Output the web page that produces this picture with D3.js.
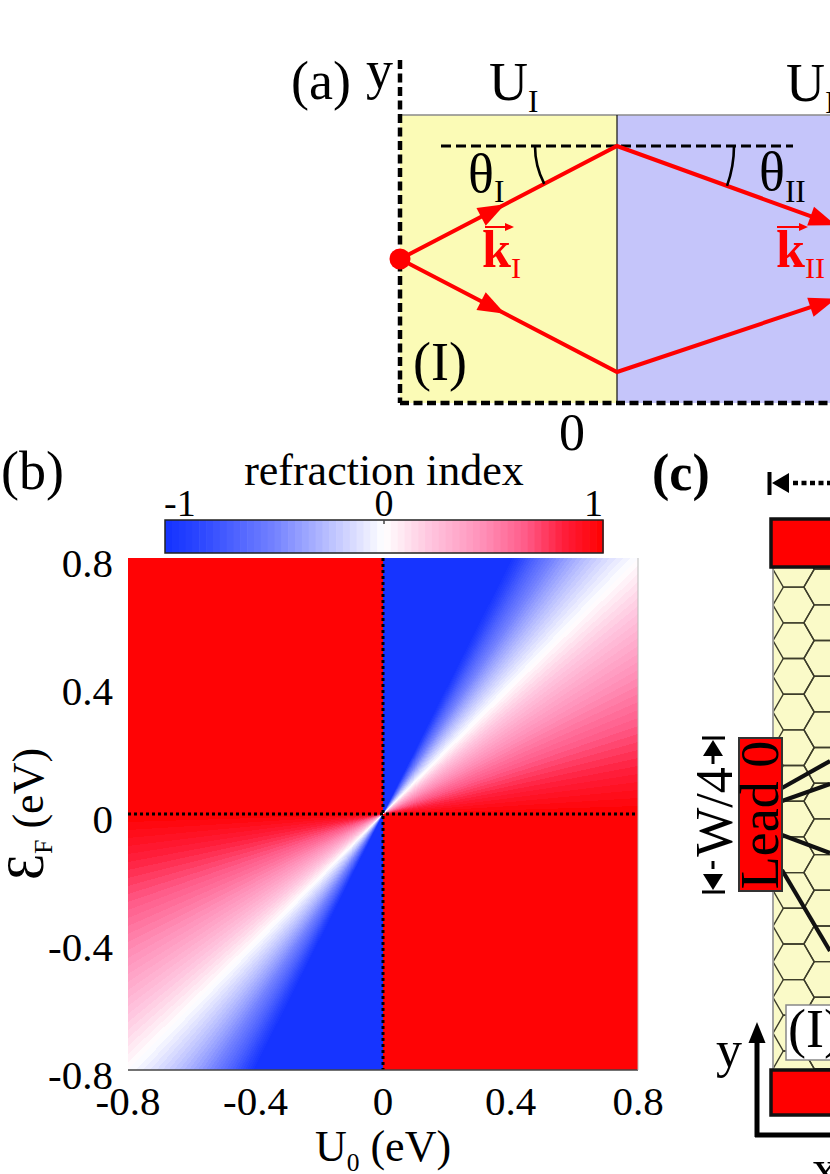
<!DOCTYPE html>
<html>
<head>
<meta charset="utf-8">
<script src="https://cdn.jsdelivr.net/npm/d3@7"></script>
<style>
  body { margin: 0; background: #fff; }
  svg { display: block; font-family: "Liberation Serif", "Times New Roman", serif; }
</style>
</head>
<body>
<div id="chart"></div>
<script>
// ---- panel (b) data ----
const u0Ticks = [-0.8, -0.4, 0, 0.4, 0.8];      // U0 (eV)
const efTicks = [-0.8, -0.4, 0, 0.4, 0.8];      // E_F (eV)
const cbTicks = [-1, 0, 1];                      // refraction index
// refraction index read off the map as a function of E_F / U_0
const ratioKnots = [0, 1, 2];
const indexKnots = [1, 0, -1];
// colour map (blue - white - red), 64 steps
const cmapValues = [-1, -0.85, -0.5, -0.2, 0, 0.2, 0.45, 0.65, 0.82, 1];
const cmapColors = ["#1432ff", "#2a45ff", "#7482ff", "#c8ccff", "#ffffff",
                    "#ffc8e0", "#ff90b8", "#ff5a88", "#ff1e3c", "#ff0000"];
const nLevels = 64;

// ---- panel (a) angles (deg) ----
const thetaI = 27.5;
const thetaIIup = 19.9, thetaIIdown = 18.5;

const W = 830, H = 1174;
const svg = d3.select("#chart").append("svg")
  .attr("width", W).attr("height", H)
  .attr("viewBox", [0, 0, W, H]);

// text with subscripts: parts = [[str], [str,"sub"], ...]
function rich(g, x, y, parts, size, subShift) {
  const t = g.append("text").attr("x", x).attr("y", y).attr("font-size", size);
  let shift = 0;
  parts.forEach(p => {
    const ts = t.append("tspan").text(p[0]);
    const want = p[1] === "sub" ? (subShift || size * 0.22) : 0;
    if (want !== shift) { ts.attr("dy", want - shift); shift = want; }
    if (p[1] === "sub") ts.attr("font-size", size * 0.58);
  });
  return t;
}
function tri(g, tipX, tipY, ang, len, half, fill) {
  const a = ang * Math.PI / 180;
  const bx = tipX - len * Math.cos(a), by = tipY - len * Math.sin(a);
  const nx = -Math.sin(a) * half, ny = Math.cos(a) * half;
  g.append("path")
    .attr("d", `M${tipX},${tipY}L${bx + nx},${by + ny}L${bx - nx},${by - ny}Z`)
    .attr("fill", fill);
}

// =============== panel (a) ===============
const ga = svg.append("g");
const aL = 400, aI = 617, aT = 115, aB = 403, srcY = 259;
ga.append("rect").attr("x", aL).attr("y", aT).attr("width", aI - aL).attr("height", aB - aT).attr("fill", "#fbfbb6");
ga.append("rect").attr("x", aI).attr("y", aT).attr("width", W - aI).attr("height", aB - aT).attr("fill", "#c5c5fa");
ga.append("line").attr("x1", aL).attr("x2", W).attr("y1", aT).attr("y2", aT).attr("stroke", "#8a8a8a").attr("stroke-width", 1.6);
ga.append("line").attr("x1", aI).attr("x2", aI).attr("y1", aT).attr("y2", aB).attr("stroke", "#111").attr("stroke-width", 1.2);
ga.append("line").attr("x1", aL).attr("x2", aL).attr("y1", 60).attr("y2", aB)
  .attr("stroke", "#000").attr("stroke-width", 4.5).attr("stroke-dasharray", "9,4.5");
ga.append("line").attr("x1", aL).attr("x2", W).attr("y1", aB).attr("y2", aB)
  .attr("stroke", "#000").attr("stroke-width", 4.5).attr("stroke-dasharray", "9,4.5");

const rad = Math.PI / 180;
const hitUp = srcY - (aI - aL) * Math.tan(thetaI * rad);
const hitDn = srcY + (aI - aL) * Math.tan(thetaI * rad);
ga.append("line").attr("x1", 441).attr("x2", 793).attr("y1", hitUp).attr("y2", hitUp)
  .attr("stroke", "#000").attr("stroke-width", 3).attr("stroke-dasharray", "10,5");

const tipX2 = 836;
const endUp = hitUp + (tipX2 - aI) * Math.tan(thetaIIup * rad);
const endDn = hitDn - (tipX2 - aI) * Math.tan(thetaIIdown * rad);
const ray = d3.line();
ga.append("path").attr("d", ray([[aL, srcY], [aI, hitUp], [tipX2 - 20, endUp - 20 * Math.tan(thetaIIup * rad)]]))
  .attr("fill", "none").attr("stroke", "red").attr("stroke-width", 4).attr("stroke-linejoin", "miter");
ga.append("path").attr("d", ray([[aL, srcY], [aI, hitDn], [tipX2 - 20, endDn + 20 * Math.tan(thetaIIdown * rad)]]))
  .attr("fill", "none").attr("stroke", "red").attr("stroke-width", 4);
// arrowheads
const tI = 0.484;
tri(ga, aL + tI * (aI - aL), srcY + tI * (hitUp - srcY), -thetaI, 27, 10, "red");
tri(ga, aL + tI * (aI - aL), srcY + tI * (hitDn - srcY), thetaI, 27, 10, "red");
tri(ga, tipX2, endUp, thetaIIup, 27, 10, "red");
tri(ga, tipX2, endDn, -thetaIIdown, 27, 10, "red");
ga.append("circle").attr("cx", aL).attr("cy", srcY).attr("r", 10.5).attr("fill", "red");

// angle arcs
function arcPath(cx, cy, r, a0, a1) {
  const p0 = [cx + r * Math.cos(a0 * rad), cy + r * Math.sin(a0 * rad)];
  const p1 = [cx + r * Math.cos(a1 * rad), cy + r * Math.sin(a1 * rad)];
  const sweep = a1 > a0 ? 1 : 0;
  return `M${p0}A${r},${r} 0 0 ${sweep} ${p1}`;
}
ga.append("path").attr("d", arcPath(aI, hitUp, 82, 180, 180 - thetaI))
  .attr("fill", "none").attr("stroke", "#000").attr("stroke-width", 2.6);
ga.append("path").attr("d", arcPath(aI, hitUp, 117, 0, thetaIIup))
  .attr("fill", "none").attr("stroke", "#000").attr("stroke-width", 2.6);

// labels (a)
ga.append("text").attr("x", 291).attr("y", 99).attr("font-size", 54).text("(a)");
ga.append("text").attr("x", 366).attr("y", 88).attr("font-size", 54).text("y");
rich(ga, 489, 100, [["U"], ["I", "sub"]], 54, 12);
rich(ga, 786, 101, [["U"], ["II", "sub"]], 54, 12);
rich(ga, 468, 192, [["θ"], ["I", "sub"]], 54, 10);
rich(ga, 759, 190, [["θ"], ["II", "sub"]], 54, 12);
rich(ga, 482, 267, [["k"], ["I", "sub"]], 52, 11).attr("fill", "red").attr("font-weight", "bold")
  .selectAll("tspan").filter((d, i) => i === 1).attr("font-weight", "normal");
rich(ga, 776, 267, [["k"], ["II", "sub"]], 52, 11).attr("fill", "red").attr("font-weight", "bold")
  .selectAll("tspan").filter((d, i) => i === 1).attr("font-weight", "normal");
[[485, 506], [777, 800]].forEach(([x1, x2]) => {
  ga.append("line").attr("x1", x1).attr("x2", x2).attr("y1", 227).attr("y2", 227).attr("stroke", "red").attr("stroke-width", 2);
  tri(ga, x2 + 8, 227, 0, 9, 4, "red");
});
ga.append("text").attr("x", 413).attr("y", 380).attr("font-size", 54).text("(I)");
ga.append("text").attr("x", 572).attr("y", 450).attr("font-size", 52).attr("text-anchor", "middle").text("0");

// =============== panel (b) ===============
const gb = svg.append("g");
const x = d3.scaleLinear().domain([-0.8, 0.8]).range([128, 638]);
const y = d3.scaleLinear().domain([-0.8, 0.8]).range([1070, 558]);
const nIndex = d3.scaleLinear().domain(ratioKnots).range(indexKnots).clamp(true);
const cmap = d3.scaleLinear().domain(cmapValues).range(cmapColors).interpolate(d3.interpolateRgb);
const levelColors = d3.range(nLevels).map(k => cmap(-1 + (k + 0.5) * 2 / nLevels));
const level = v => Math.max(0, Math.min(nLevels - 1, Math.floor((v + 1) / 2 * nLevels)));

// heat map raster
const pw = Math.round(x.range()[1] - x.range()[0]);
const ph = Math.round(y.range()[0] - y.range()[1]);
const canvas = document.createElement("canvas");
canvas.width = pw; canvas.height = ph;
const ctx = canvas.getContext("2d");
const img = ctx.createImageData(pw, ph);
const rgbLevels = levelColors.map(c => d3.rgb(c));
for (let j = 0; j < ph; j++) {
  const e = y.invert(y.range()[1] + j + 0.5);
  for (let i = 0; i < pw; i++) {
    const u = x.invert(x.range()[0] + i + 0.5);
    const c = rgbLevels[level(nIndex(e / u))];
    const o = (j * pw + i) * 4;
    img.data[o] = c.r; img.data[o + 1] = c.g; img.data[o + 2] = c.b; img.data[o + 3] = 255;
  }
}
ctx.putImageData(img, 0, 0);
gb.append("image").attr("x", x.range()[0]).attr("y", y.range()[1])
  .attr("width", pw).attr("height", ph)
  .attr("preserveAspectRatio", "none")
  .attr("href", canvas.toDataURL());

// dotted zero lines
gb.append("line").attr("x1", x(0)).attr("x2", x(0)).attr("y1", y(0.8)).attr("y2", y(-0.8))
  .attr("stroke", "#000").attr("stroke-width", 3).attr("stroke-dasharray", "3,3");
gb.append("line").attr("x1", x(-0.8)).attr("x2", x(0.8)).attr("y1", y(0)).attr("y2", y(0))
  .attr("stroke", "#000").attr("stroke-width", 3).attr("stroke-dasharray", "3,3");
gb.append("line").attr("x1", x(-0.8)).attr("x2", x(0.8)).attr("y1", y(-0.8)).attr("y2", y(-0.8))
  .attr("stroke", "#444").attr("stroke-width", 1.6);
gb.append("line").attr("x1", x(0.8)).attr("x2", x(0.8)).attr("y1", y(0.8)).attr("y2", y(-0.8))
  .attr("stroke", "#bbb").attr("stroke-width", 1);

// tick labels
const fmt = d => String(d);
gb.selectAll(".xt").data(u0Ticks).join("text")
  .attr("x", d => x(d)).attr("y", 1115).attr("font-size", 41).attr("text-anchor", "middle").text(fmt);
gb.selectAll(".yt").data(efTicks).join("text")
  .attr("x", 113).attr("y", d => y(d) + 19).attr("font-size", 41).attr("text-anchor", "end").text(fmt);

// axis titles
rich(gb, 383, 1161, [["U"], ["0", "sub"], [" (eV)"]], 44, 10).attr("text-anchor", "middle");
const yl = gb.append("text").attr("transform", "translate(43,814) rotate(-90)")
  .attr("text-anchor", "middle").attr("font-size", 44);
yl.append("tspan").attr("font-size", 52).text("Ɛ");
yl.append("tspan").attr("font-size", 26).attr("dy", 9).text("F");
yl.append("tspan").attr("dy", -9).text(" (eV)");

// colour bar
const cbX = d3.scaleLinear().domain([-1, 1]).range([165, 603]);
const cbY = 520, cbH = 33;
gb.selectAll(".cb").data(levelColors).join("rect")
  .attr("x", (d, k) => cbX(-1 + k * 2 / nLevels))
  .attr("width", (cbX(1) - cbX(-1)) / nLevels + 0.6)
  .attr("y", cbY).attr("height", cbH).attr("fill", d => d);
gb.append("rect").attr("x", cbX(-1)).attr("y", cbY).attr("width", cbX(1) - cbX(-1)).attr("height", cbH)
  .attr("fill", "none").attr("stroke", "#222").attr("stroke-width", 1.5);
gb.append("line").attr("x1", cbX(0)).attr("x2", cbX(0)).attr("y1", cbY).attr("y2", cbY + 4).attr("stroke", "#444").attr("stroke-width", 1.5);
gb.selectAll(".cbt").data(cbTicks).join("text")
  .attr("x", d => d === -1 ? cbX(d) - 1 : cbX(d))
  .attr("text-anchor", d => d === -1 ? "start" : d === 1 ? "end" : "middle")
  .attr("y", 516).attr("font-size", 38).text(d => String(d));
gb.append("text").attr("x", 384).attr("y", 485).attr("font-size", 44).attr("text-anchor", "middle").text("refraction index");
gb.append("text").attr("x", 1).attr("y", 489).attr("font-size", 54).text("(b)");

// =============== panel (c) ===============
const gc = svg.append("g");
const sL = 773, sT = 568, sB = 1069;
gc.append("defs").append("clipPath").attr("id", "strip")
  .append("rect").attr("x", sL).attr("y", sT).attr("width", W - sL).attr("height", sB - sT);
gc.append("rect").attr("x", sL).attr("y", sT).attr("width", W - sL).attr("height", sB - sT).attr("fill", "#fafac8");
const s = 20.6, hh = Math.sqrt(3) * s;
const hexes = [];
[[sL + s, 605], [sL + s + 1.5 * s, 587]].forEach(([cx, cy0]) => {
  for (let k = -2; k < 17; k++) hexes.push([cx, cy0 + hh * k]);
});
gc.append("g").attr("clip-path", "url(#strip)")
  .selectAll("path").data(hexes).join("path")
  .attr("d", ([cx, cy]) => d3.line()(d3.range(7).map(v => [cx + s * Math.cos(v * 60 * rad), cy + s * Math.sin(v * 60 * rad)])))
  .attr("fill", "none").attr("stroke", "#3d3d2a").attr("stroke-width", 1.4);
gc.append("line").attr("x1", sL).attr("x2", sL).attr("y1", sT).attr("y2", sB).attr("stroke", "#9a9a9a").attr("stroke-width", 1.8);

// trajectories from lead 0
const traj = [[[782, 788], [830, 761]], [[782, 801], [830, 784]], [[782, 835], [830, 853]], [[782, 870], [830, 951]]];
gc.selectAll(".tr").data(traj).join("path").attr("d", d => d3.line()(d))
  .attr("stroke", "#111").attr("stroke-width", 4.2);

// Lead 0
gc.append("rect").attr("x", 739).attr("y", 738).attr("width", 43).attr("height", 153)
  .attr("fill", "red").attr("stroke", "#333").attr("stroke-width", 2);
gc.append("text").attr("transform", "translate(778,815) rotate(-90)").attr("text-anchor", "middle")
  .attr("font-size", 54).text("Lead 0");
// top / bottom leads
gc.append("rect").attr("x", 771).attr("y", 519).attr("width", 70).attr("height", 48)
  .attr("fill", "red").attr("stroke", "#111").attr("stroke-width", 3.5);
gc.append("rect").attr("x", 771).attr("y", 1070).attr("width", 70).attr("height", 45)
  .attr("fill", "red").attr("stroke", "#111").attr("stroke-width", 3.5);
// (I) box
gc.append("rect").attr("x", 786).attr("y", 1005).attr("width", 60).attr("height", 55)
  .attr("fill", "#fff").attr("stroke", "#888").attr("stroke-width", 1.5);
gc.append("text").attr("x", 788).attr("y", 1047).attr("font-size", 54).text("(I)");

// axes
gc.append("path").attr("d", "M757,1137V1040M755,1135H840").attr("fill", "none").attr("stroke", "#000").attr("stroke-width", 5);
tri(gc, 757, 1022, -90, 21, 8.5, "#000");
gc.append("text").attr("x", 716).attr("y", 1067).attr("font-size", 52).text("y");
gc.append("text").attr("x", 812).attr("y", 1186).attr("font-size", 52).text("x");

// W/4 dimension
const dX = 713;
gc.append("path").attr("d", `M702,738H725M702,892H725M${dX},756V764M${dX},861V869`).attr("stroke", "#000").attr("stroke-width", 3);
tri(gc, dX, 740, -90, 16, 10, "#000");
tri(gc, dX, 890, 90, 16, 10, "#000");
gc.append("text").attr("transform", "translate(732,812) rotate(-90)").attr("text-anchor", "middle")
  .attr("font-size", 52).text("W/4");

// top dotted arrow
gc.append("line").attr("x1", 769.5).attr("x2", 769.5).attr("y1", 472).attr("y2", 495).attr("stroke", "#000").attr("stroke-width", 4);
tri(gc, 772, 483, 180, 17, 10, "#000");
gc.append("line").attr("x1", 793).attr("x2", W).attr("y1", 483).attr("y2", 483)
  .attr("stroke", "#000").attr("stroke-width", 4.5).attr("stroke-dasharray", "5,3.5");
gc.append("text").attr("x", 652).attr("y", 490).attr("font-size", 52).attr("font-weight", "bold").text("(c)");
</script>
</body>
</html>
